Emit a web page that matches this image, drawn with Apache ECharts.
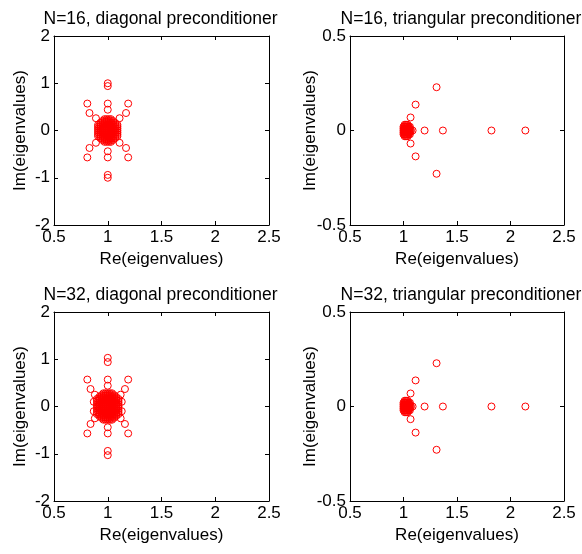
<!DOCTYPE html>
<html>
<head>
<meta charset="utf-8">
<script src="https://cdn.jsdelivr.net/npm/echarts@6/dist/echarts.min.js"></script>
<style>
  html, body { margin: 0; padding: 0; background: #fff; }
  #main { width: 582px; height: 554px; }
</style>
</head>
<body>
<div id="main"></div>
<script type="text/javascript">

    // panel titles
    var titles = [
        'N=16, diagonal preconditioner',
        'N=16, triangular preconditioner',
        'N=32, diagonal preconditioner',
        'N=32, triangular preconditioner'
    ];

    // axis tick settings (min, max, interval)
    var reTicks = [0.5, 2.5, 0.5];
    var imDiagTicks = [-2, 2, 1];
    var imTriTicks = [-0.5, 0.5, 0.5];

    // eigenvalues [Re, Im] (the centre blob is a dense pile of circles)
    var diag16 = [
        [1.0, 1.0], [1.0, 0.94], [1.0, -0.94], [1.0, -1.0],
        [0.81, 0.57], [1.0, 0.57], [1.19, 0.57], [0.81, -0.57], [1.0, -0.57], [1.19, -0.57],
        [0.83, 0.37], [1.17, 0.37], [0.83, -0.37], [1.17, -0.37],
        [1.0, 0.44], [1.0, -0.44],
        [0.89, 0.26], [1.11, 0.26], [0.89, -0.26], [1.11, -0.26],
        [0.97, 0.24], [0.99, 0.24], [1.01, 0.24], [1.03, 0.24],
        [0.95, 0.2], [0.97, 0.2], [0.99, 0.2], [1.01, 0.2], [1.03, 0.2], [1.05, 0.2],
        [0.93, 0.16], [0.95, 0.16], [0.97, 0.16], [0.99, 0.16], [1.01, 0.16], [1.03, 0.16], [1.05, 0.16], [1.07, 0.16],
        [0.91, 0.12], [0.93, 0.12], [0.95, 0.12], [0.97, 0.12], [0.99, 0.12], [1.01, 0.12], [1.03, 0.12], [1.05, 0.12], [1.07, 0.12], [1.09, 0.12],
        [0.91, 0.08], [0.93, 0.08], [0.95, 0.08], [0.97, 0.08], [0.99, 0.08], [1.01, 0.08], [1.03, 0.08], [1.05, 0.08], [1.07, 0.08], [1.09, 0.08],
        [0.91, 0.04], [0.93, 0.04], [0.95, 0.04], [0.97, 0.04], [0.99, 0.04], [1.01, 0.04], [1.03, 0.04], [1.05, 0.04], [1.07, 0.04], [1.09, 0.04],
        [0.91, 0.0], [0.93, 0.0], [0.95, 0.0], [0.97, 0.0], [0.99, 0.0], [1.01, 0.0], [1.03, 0.0], [1.05, 0.0], [1.07, 0.0], [1.09, 0.0],
        [0.91, -0.04], [0.93, -0.04], [0.95, -0.04], [0.97, -0.04], [0.99, -0.04], [1.01, -0.04], [1.03, -0.04], [1.05, -0.04], [1.07, -0.04], [1.09, -0.04],
        [0.91, -0.08], [0.93, -0.08], [0.95, -0.08], [0.97, -0.08], [0.99, -0.08], [1.01, -0.08], [1.03, -0.08], [1.05, -0.08], [1.07, -0.08], [1.09, -0.08],
        [0.91, -0.12], [0.93, -0.12], [0.95, -0.12], [0.97, -0.12], [0.99, -0.12], [1.01, -0.12], [1.03, -0.12], [1.05, -0.12], [1.07, -0.12], [1.09, -0.12],
        [0.93, -0.16], [0.95, -0.16], [0.97, -0.16], [0.99, -0.16], [1.01, -0.16], [1.03, -0.16], [1.05, -0.16], [1.07, -0.16],
        [0.95, -0.2], [0.97, -0.2], [0.99, -0.2], [1.01, -0.2], [1.03, -0.2], [1.05, -0.2],
        [0.97, -0.24], [0.99, -0.24], [1.01, -0.24], [1.03, -0.24]
    ];

    var diag32 = [
        [1.0, 1.03], [1.0, 0.94], [1.0, -0.94], [1.0, -1.03],
        [0.81, 0.57], [1.0, 0.57], [1.19, 0.57], [0.81, -0.57], [1.0, -0.57], [1.19, -0.57],
        [0.84, 0.37], [1.16, 0.37], [0.84, -0.37], [1.16, -0.37],
        [1.0, 0.44], [1.0, -0.44],
        [0.88, 0.25], [1.12, 0.25], [0.88, -0.25], [1.12, -0.25],
        [0.87, 0.1], [1.13, 0.1], [0.87, -0.1], [1.13, -0.1],
        [0.96, 0.28], [0.98, 0.28], [1.0, 0.28], [1.02, 0.28], [1.04, 0.28],
        [0.94, 0.24], [0.96, 0.24], [0.98, 0.24], [1.0, 0.24], [1.02, 0.24], [1.04, 0.24], [1.06, 0.24],
        [0.92, 0.2], [0.94, 0.2], [0.96, 0.2], [0.98, 0.2], [1.0, 0.2], [1.02, 0.2], [1.04, 0.2], [1.06, 0.2], [1.08, 0.2],
        [0.9, 0.16], [0.92, 0.16], [0.94, 0.16], [0.96, 0.16], [0.98, 0.16], [1.0, 0.16], [1.02, 0.16], [1.04, 0.16], [1.06, 0.16], [1.08, 0.16], [1.1, 0.16],
        [0.9, 0.12], [0.92, 0.12], [0.94, 0.12], [0.96, 0.12], [0.98, 0.12], [1.0, 0.12], [1.02, 0.12], [1.04, 0.12], [1.06, 0.12], [1.08, 0.12], [1.1, 0.12],
        [0.9, 0.08], [0.92, 0.08], [0.94, 0.08], [0.96, 0.08], [0.98, 0.08], [1.0, 0.08], [1.02, 0.08], [1.04, 0.08], [1.06, 0.08], [1.08, 0.08], [1.1, 0.08],
        [0.9, 0.04], [0.92, 0.04], [0.94, 0.04], [0.96, 0.04], [0.98, 0.04], [1.0, 0.04], [1.02, 0.04], [1.04, 0.04], [1.06, 0.04], [1.08, 0.04], [1.1, 0.04],
        [0.9, 0.0], [0.92, 0.0], [0.94, 0.0], [0.96, 0.0], [0.98, 0.0], [1.0, 0.0], [1.02, 0.0], [1.04, 0.0], [1.06, 0.0], [1.08, 0.0], [1.1, 0.0],
        [0.9, -0.04], [0.92, -0.04], [0.94, -0.04], [0.96, -0.04], [0.98, -0.04], [1.0, -0.04], [1.02, -0.04], [1.04, -0.04], [1.06, -0.04], [1.08, -0.04], [1.1, -0.04],
        [0.9, -0.08], [0.92, -0.08], [0.94, -0.08], [0.96, -0.08], [0.98, -0.08], [1.0, -0.08], [1.02, -0.08], [1.04, -0.08], [1.06, -0.08], [1.08, -0.08], [1.1, -0.08],
        [0.9, -0.12], [0.92, -0.12], [0.94, -0.12], [0.96, -0.12], [0.98, -0.12], [1.0, -0.12], [1.02, -0.12], [1.04, -0.12], [1.06, -0.12], [1.08, -0.12], [1.1, -0.12],
        [0.9, -0.16], [0.92, -0.16], [0.94, -0.16], [0.96, -0.16], [0.98, -0.16], [1.0, -0.16], [1.02, -0.16], [1.04, -0.16], [1.06, -0.16], [1.08, -0.16], [1.1, -0.16],
        [0.92, -0.2], [0.94, -0.2], [0.96, -0.2], [0.98, -0.2], [1.0, -0.2], [1.02, -0.2], [1.04, -0.2], [1.06, -0.2], [1.08, -0.2],
        [0.94, -0.24], [0.96, -0.24], [0.98, -0.24], [1.0, -0.24], [1.02, -0.24], [1.04, -0.24], [1.06, -0.24],
        [0.96, -0.28], [0.98, -0.28], [1.0, -0.28], [1.02, -0.28], [1.04, -0.28]
    ];

    var tri16 = [
        [1.309, 0.229], [1.113, 0.137], [1.066, 0.069],
        [1.197, 0.0], [1.368, 0.0], [1.822, 0.0], [2.139, 0.0],
        [1.066, -0.069], [1.113, -0.137], [1.309, -0.229],
        [1.085, 0.0],
        [1.01, 0.03], [1.02, 0.03], [1.03, 0.03], [1.04, 0.03],
        [1.0, 0.02], [1.01, 0.02], [1.02, 0.02], [1.03, 0.02], [1.04, 0.02], [1.05, 0.02], [1.06, 0.02],
        [1.0, 0.01], [1.01, 0.01], [1.02, 0.01], [1.03, 0.01], [1.04, 0.01], [1.05, 0.01], [1.06, 0.01],
        [1.0, 0.0], [1.01, 0.0], [1.02, 0.0], [1.03, 0.0], [1.04, 0.0], [1.05, 0.0], [1.06, 0.0], [1.07, 0.0],
        [1.0, -0.01], [1.01, -0.01], [1.02, -0.01], [1.03, -0.01], [1.04, -0.01], [1.05, -0.01], [1.06, -0.01],
        [1.0, -0.02], [1.01, -0.02], [1.02, -0.02], [1.03, -0.02], [1.04, -0.02], [1.05, -0.02], [1.06, -0.02],
        [1.01, -0.03], [1.02, -0.03], [1.03, -0.03], [1.04, -0.03]
    ];

    var tri32 = [
        [1.309, 0.229], [1.113, 0.138], [1.066, 0.069],
        [1.197, 0.0], [1.368, 0.0], [1.822, 0.0], [2.139, 0.0],
        [1.066, -0.067], [1.113, -0.138], [1.309, -0.229],
        [1.085, 0.0],
        [1.01, 0.03], [1.02, 0.03], [1.03, 0.03], [1.04, 0.03],
        [1.0, 0.02], [1.01, 0.02], [1.02, 0.02], [1.03, 0.02], [1.04, 0.02], [1.05, 0.02], [1.06, 0.02],
        [1.0, 0.01], [1.01, 0.01], [1.02, 0.01], [1.03, 0.01], [1.04, 0.01], [1.05, 0.01], [1.06, 0.01],
        [1.0, 0.0], [1.01, 0.0], [1.02, 0.0], [1.03, 0.0], [1.04, 0.0], [1.05, 0.0], [1.06, 0.0], [1.07, 0.0],
        [1.0, -0.01], [1.01, -0.01], [1.02, -0.01], [1.03, -0.01], [1.04, -0.01], [1.05, -0.01], [1.06, -0.01],
        [1.0, -0.02], [1.01, -0.02], [1.02, -0.02], [1.03, -0.02], [1.04, -0.02], [1.05, -0.02], [1.06, -0.02],
        [1.01, -0.03], [1.02, -0.03], [1.03, -0.03], [1.04, -0.03]
    ];

    var panelData = [diag16, tri16, diag32, tri32];
    var panelIm = [imDiagTicks, imTriTicks, imDiagTicks, imTriTicks];

    var font = "'Liberation Sans', Arial, Helvetica, sans-serif";
    var fs = 17;
    var grids = [
        { left: 54, top: 36, width: 215, height: 189 },
        { left: 350, top: 36, width: 214, height: 189 },
        { left: 54, top: 312, width: 215, height: 189 },
        { left: 350, top: 312, width: 214, height: 189 }
    ];
    var yNameGap = [25, 31, 25, 31];
    var titleShift = [-6, -1, -6, -1];

    var line = { show: true, onZero: false, lineStyle: { color: '#000', width: 1 } };
    var tick = { show: true, inside: true, length: 4, lineStyle: { color: '#000', width: 1 } };

    var xAxes = [], yAxes = [], series = [], titleList = [];
    grids.forEach(function (g, i) {
        titleList.push({
            text: titles[i],
            left: g.left + g.width / 2 + titleShift[i],
            top: g.top - 31,
            textAlign: 'center',
            textStyle: { fontFamily: font, fontSize: 17.5, fontWeight: 'normal', color: '#000' }
        });
        // bottom x axis
        xAxes.push({
            gridIndex: i, type: 'value', position: 'bottom',
            min: reTicks[0], max: reTicks[1], interval: reTicks[2],
            name: 'Re(eigenvalues)', nameLocation: 'middle', nameGap: 26, nameMoveOverlap: false,
            nameTextStyle: { fontFamily: font, fontSize: fs, color: '#000' },
            axisLine: line, axisTick: tick, splitLine: { show: false },
            axisLabel: { fontFamily: font, fontSize: fs, color: '#000', margin: 4 }
        });
        // top x axis (box)
        xAxes.push({
            gridIndex: i, type: 'value', position: 'top',
            min: reTicks[0], max: reTicks[1], interval: reTicks[2],
            axisLine: line, axisTick: tick, splitLine: { show: false },
            axisLabel: { show: false }
        });
        var im = panelIm[i];
        // left y axis
        yAxes.push({
            gridIndex: i, type: 'value', position: 'left',
            min: im[0], max: im[1], interval: im[2],
            name: 'Im(eigenvalues)', nameLocation: 'middle', nameGap: yNameGap[i], nameMoveOverlap: false,
            nameTextStyle: { fontFamily: font, fontSize: fs, color: '#000' },
            axisLine: line, axisTick: tick, splitLine: { show: false },
            axisLabel: { fontFamily: font, fontSize: fs, color: '#000', margin: 4 }
        });
        // right y axis (box)
        yAxes.push({
            gridIndex: i, type: 'value', position: 'right',
            min: im[0], max: im[1], interval: im[2],
            axisLine: line, axisTick: tick, splitLine: { show: false },
            axisLabel: { show: false }
        });
        series.push({
            type: 'scatter',
            xAxisIndex: i * 2,
            yAxisIndex: i * 2,
            symbol: 'circle',
            symbolSize: 7,
            itemStyle: { color: 'rgba(0,0,0,0)', borderColor: '#f00', borderWidth: 1, opacity: 1 },
            data: panelData[i]
        });
    });

    var myChart = echarts.init(document.getElementById('main'));
    var option = {
        backgroundColor: '#fff',
        animation: false,
        title: titleList,
        grid: grids,
        xAxis: xAxes,
        yAxis: yAxes,
        series: series
    };
    myChart.setOption(option);

</script>
</body>
</html>
